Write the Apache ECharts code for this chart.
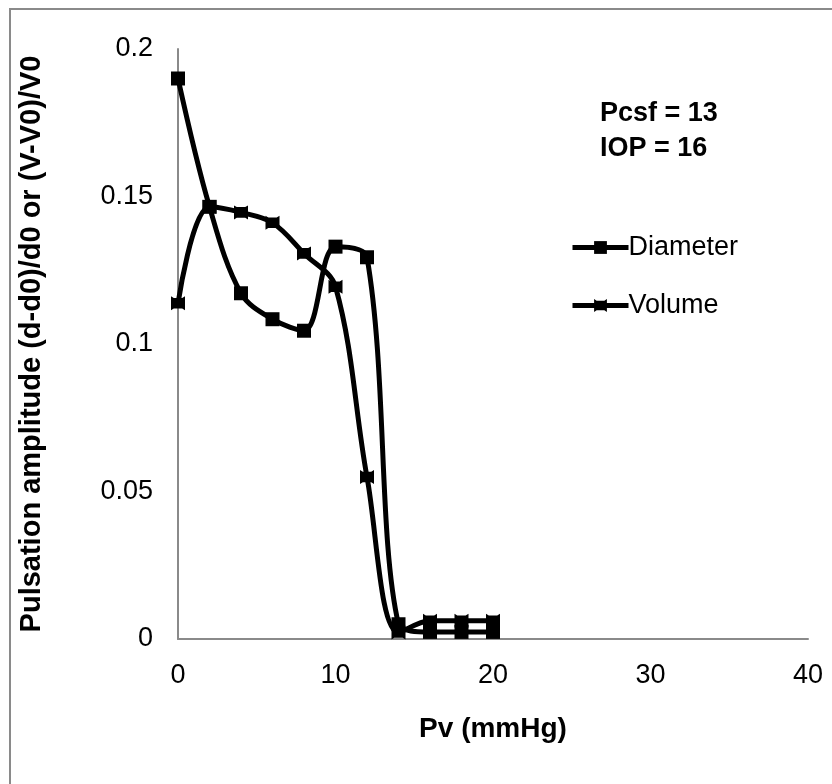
<!DOCTYPE html>
<html>
<head>
<meta charset="utf-8">
<script src="https://cdn.jsdelivr.net/npm/echarts@6/dist/echarts.min.js"></script>
<style>
html,body{margin:0;padding:0;background:#fff;}
#chart{width:832px;height:784px;}
</style>
</head>
<body>
<div id="chart"></div>
<script>
const pv = [0, 2, 4, 6, 8, 10, 12, 14, 16, 18, 20];
const diameter = [0.190, 0.1465, 0.1172, 0.1084, 0.1045, 0.133, 0.1294, 0.005, 0.0024, 0.0024, 0.0024];
const volume = [0.1138, 0.1465, 0.1446, 0.1411, 0.1307, 0.1194, 0.0549, 0.0022, 0.0062, 0.0062, 0.0062];
const seriesNames = ['Diameter', 'Volume'];
const yTicks = { min: 0, max: 0.2, interval: 0.05 };
const xTicks = { min: 0, max: 40, interval: 10 };
const annotationLines = ['Pcsf = 13', 'IOP = 16'];

const FONT = 'Liberation Sans, Arial, sans-serif';
const starPath = 'path://M0,0 L2,1.2 L8,1.2 L10,0 L10,10 L8,8.8 L2,8.8 L0,10 Z';

const chart = echarts.init(document.getElementById('chart'));
chart.setOption({
  backgroundColor: '#fff',
  animation: false,
  grid: { left: 178, top: 49, width: 630, height: 590, containLabel: false },
  graphic: [
    { type: 'rect', shape: { x: 10, y: 9, width: 840, height: 800 }, style: { fill: 'none', stroke: '#8a8a8a', lineWidth: 2 }, silent: true },
    { type: 'text', left: 600, top: 96, style: { text: annotationLines.join('\n'), font: 'bold 27px ' + FONT, fill: '#000', lineHeight: 35 } }
  ],
  legend: {
    orient: 'vertical',
    left: 565,
    top: 229,
    itemWidth: 56,
    itemHeight: 16,
    itemGap: 31,
    lineStyle: { width: 5, color: '#000' },
    textStyle: { fontFamily: FONT, fontSize: 27, color: '#000', padding: [0, 0, 0, -5] },
    data: seriesNames
  },
  xAxis: {
    type: 'value',
    min: xTicks.min, max: xTicks.max, interval: xTicks.interval,
    name: 'Pv (mmHg)',
    nameLocation: 'middle',
    nameGap: 76,
    nameTextStyle: { fontFamily: FONT, fontSize: 28, fontWeight: 'bold', color: '#000' },
    axisLine: { show: true, lineStyle: { color: '#8a8a8a', width: 2 } },
    axisTick: { show: false },
    splitLine: { show: false },
    axisLabel: { fontFamily: FONT, fontSize: 27, color: '#000', margin: 23 }
  },
  yAxis: {
    type: 'value',
    min: yTicks.min, max: yTicks.max, interval: yTicks.interval,
    name: 'Pulsation amplitude (d-d0)/d0 or (V-V0)/V0',
    nameLocation: 'middle',
    nameGap: 132,
    nameTextStyle: { fontFamily: FONT, fontSize: 29, fontWeight: 'bold', color: '#000' },
    axisLine: { show: true, lineStyle: { color: '#8a8a8a', width: 2 } },
    axisTick: { show: false },
    splitLine: { show: false },
    axisLabel: { fontFamily: FONT, fontSize: 27, color: '#000', margin: 25 }
  },
  series: [
    {
      name: seriesNames[0], type: 'line', smooth: 0.35,
      data: pv.map((x, i) => [x, diameter[i]]),
      symbol: 'rect', symbolSize: 14,
      lineStyle: { color: '#000', width: 5 },
      itemStyle: { color: '#000' }
    },
    {
      name: seriesNames[1], type: 'line', smooth: 0.35,
      data: pv.map((x, i) => [x, volume[i]]),
      symbol: starPath, symbolSize: 14,
      lineStyle: { color: '#000', width: 5 },
      itemStyle: { color: '#000' }
    }
  ]
});
</script>
</body>
</html>
